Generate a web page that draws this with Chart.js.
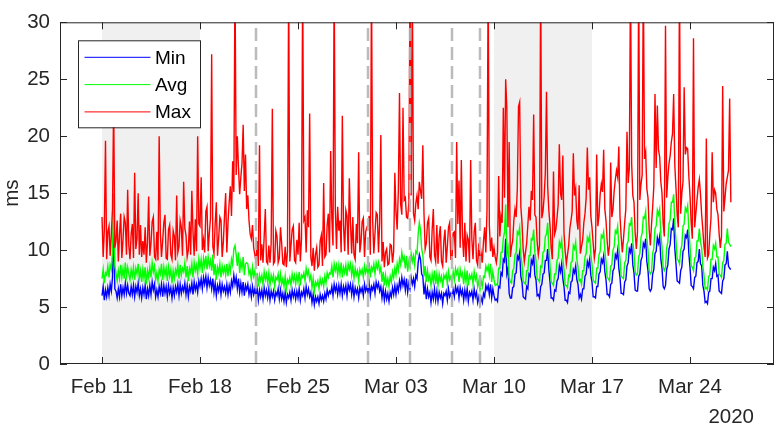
<!DOCTYPE html>
<html>
<head>
<meta charset="utf-8">
<title>Latencia</title>
<script src="https://cdn.jsdelivr.net/npm/chart.js@4.4.1/dist/chart.umd.min.js"></script>
<style>
  html, body { margin: 0; padding: 0; background: #fff; }
  #wrap { width: 774px; height: 426px; }
</style>
</head>
<body>
<div id="wrap"><canvas id="grafico" width="774" height="426"></canvas></div>
<script>
// Eje X en días desde el 8 de febrero de 2020
const startDay = 3;         // primera muestra: 11 feb 00:00
const samplesPerDay = 12;   // una muestra cada 2 horas

const tickDays = [3, 10, 17, 24, 31, 38, 45];
const tickLabels = ["Feb 11", "Feb 18", "Feb 25", "Mar 03", "Mar 10", "Mar 17", "Mar 24"];
const shadedWeeks = [[3, 10], [31, 38]];
const markerDays = [14, 22, 25, 28, 30];
const yearLabel = "2020";

const seriesNames = ["Min", "Avg", "Max"];
const seriesColors = ["#0000ff", "#00ff00", "#ff0000"];

// Valores en ms, 12 por día (cada fila = un día, desde el 11 feb)
const minMs = [
  6.0, 6.8, 5.6, 6.5, 5.9, 6.7, 6.0, 7.0, 6.4, 7.6, 12.4, 6.6,
  6.4, 5.8, 6.6, 5.9, 7.0, 6.0, 6.7, 6.1, 7.1, 6.2, 6.9, 6.2,
  6.0, 6.8, 6.1, 6.9, 5.9, 6.8, 6.3, 7.1, 6.0, 6.6, 5.8, 6.7,
  6.1, 6.9, 5.7, 6.6, 6.0, 6.9, 6.1, 7.2, 6.5, 7.0, 5.9, 6.5,
  5.9, 6.8, 6.2, 7.0, 5.9, 6.9, 6.2, 6.8, 5.9, 6.9, 6.2, 6.7,
  5.8, 6.7, 6.0, 6.8, 6.3, 7.0, 6.0, 7.0, 6.2, 6.8, 6.4, 7.1,
  6.1, 6.9, 5.9, 6.8, 6.4, 7.1, 6.1, 7.2, 6.5, 7.0, 6.3, 7.3,
  6.8, 7.5, 6.6, 7.6, 7.0, 7.7, 6.7, 7.6, 6.9, 7.4, 6.6, 7.5,
  6.3, 7.1, 6.0, 6.9, 6.4, 7.1, 6.1, 7.0, 6.4, 6.8, 6.2, 7.0,
  6.1, 6.9, 6.3, 7.3, 6.8, 7.8, 7.0, 7.6, 6.6, 7.5, 6.3, 7.1,
  6.3, 7.2, 6.0, 6.9, 6.5, 7.0, 6.1, 6.7, 5.9, 6.8, 6.1, 6.6,
  5.8, 6.6, 5.6, 6.5, 5.9, 6.5, 5.7, 6.7, 6.0, 6.5, 5.8, 6.6,
  5.6, 6.4, 5.9, 6.4, 5.6, 6.3, 6.0, 6.6, 5.7, 6.5, 5.7, 6.2,
  5.5, 6.3, 5.4, 6.1, 5.8, 6.3, 5.6, 6.5, 5.9, 6.4, 5.7, 6.4,
  5.8, 6.6, 5.6, 6.3, 6.0, 6.6, 5.8, 6.8, 6.1, 6.6, 5.9, 6.3,
  5.4, 6.1, 5.2, 5.9, 5.5, 5.9, 5.3, 6.1, 5.6, 6.0, 5.5, 6.2,
  5.7, 6.5, 6.0, 6.4, 6.2, 6.8, 6.0, 7.0, 6.4, 6.9, 6.1, 6.9,
  6.2, 7.0, 6.0, 6.8, 6.3, 6.9, 6.0, 7.0, 6.5, 7.0, 6.1, 6.9,
  5.9, 6.7, 6.2, 6.6, 5.8, 6.7, 6.3, 6.7, 6.0, 7.0, 6.4, 6.8,
  6.3, 7.1, 6.0, 6.8, 6.5, 7.0, 6.2, 7.2, 6.7, 7.1, 6.4, 6.8,
  5.8, 6.6, 5.6, 6.4, 5.7, 6.2, 5.5, 6.3, 5.9, 6.7, 6.1, 6.9,
  6.1, 6.9, 6.4, 7.3, 6.7, 7.6, 6.9, 7.4, 6.5, 7.5, 6.3, 7.1,
  6.6, 7.6, 7.0, 7.5, 6.8, 7.8, 7.5, 8.9, 9.6, 9.2, 7.9, 7.7,
  6.1, 6.9, 5.7, 6.6, 5.9, 6.3, 5.4, 6.3, 5.7, 6.6, 5.6, 6.4,
  5.5, 6.3, 5.8, 6.2, 5.3, 6.2, 6.0, 6.4, 5.6, 6.6, 5.9, 6.2,
  5.7, 6.5, 5.9, 6.8, 6.3, 6.7, 5.8, 6.7, 6.1, 6.5, 5.6, 6.5,
  5.8, 6.6, 5.5, 6.3, 6.0, 6.4, 5.6, 6.6, 5.9, 6.3, 5.4, 5.9,
  5.2, 5.8, 5.4, 6.2, 5.9, 6.9, 6.5, 6.9, 6.1, 7.0, 5.8, 6.6,
  6.0, 5.6, 5.7, 5.5, 6.8, 6.7, 8.0, 7.8, 9.2, 9.0, 11.0, 7.9,
  8.4, 6.2, 5.8, 5.8, 6.7, 6.8, 7.9, 8.0, 9.5, 9.2, 9.8, 7.7,
  7.2, 5.9, 5.8, 5.7, 6.8, 6.6, 7.9, 7.7, 9.1, 8.8, 9.6, 7.8,
  7.4, 6.0, 6.1, 5.8, 6.8, 7.0, 7.9, 8.0, 9.1, 9.1, 10.1, 8.3,
  7.2, 5.8, 5.8, 5.6, 6.5, 6.4, 7.3, 7.5, 8.6, 8.1, 8.8, 7.5,
  6.8, 5.6, 5.6, 5.4, 6.3, 6.2, 7.2, 7.3, 8.3, 8.0, 8.6, 7.4,
  7.0, 5.8, 6.1, 5.7, 6.6, 6.6, 7.7, 7.9, 9.0, 8.6, 9.2, 7.8,
  7.2, 5.9, 5.9, 5.8, 6.8, 6.8, 7.9, 8.1, 9.2, 8.9, 9.5, 8.1,
  7.4, 6.1, 6.1, 5.9, 7.0, 7.1, 8.2, 8.4, 9.6, 9.3, 10.0, 8.4,
  7.6, 6.2, 6.2, 6.1, 7.2, 7.4, 8.6, 8.9, 10.1, 9.8, 10.6, 8.7,
  8.0, 6.5, 6.4, 6.4, 7.7, 7.9, 9.1, 9.4, 10.6, 10.3, 11.0, 9.0,
  8.2, 6.6, 6.4, 6.6, 7.9, 8.3, 9.7, 9.9, 11.1, 10.6, 11.2, 9.2,
  8.4, 6.8, 6.6, 6.9, 8.3, 8.7, 10.1, 10.5, 11.9, 11.8, 12.8, 10.1,
  8.8, 7.3, 7.2, 7.1, 8.2, 8.5, 9.9, 10.1, 11.3, 11.1, 11.8, 9.7,
  8.5, 6.9, 6.8, 6.6, 7.6, 7.7, 8.9, 9.0, 10.1, 8.8, 8.6, 6.9,
  6.4, 5.4, 5.5, 5.3, 6.3, 6.4, 7.5, 7.5, 8.5, 8.2, 8.8, 7.7,
  7.8, 6.4, 6.3, 6.2, 7.3, 7.5, 8.7, 8.8, 9.9, 8.6, 8.4, 8.3
];

const avgMs = [
  7.5, 8.3, 7.1, 8.0, 7.8, 8.6, 7.6, 8.7, 8.3, 9.8, 15.0, 8.6,
  8.0, 7.3, 8.2, 7.5, 8.7, 7.6, 8.4, 7.5, 8.9, 7.7, 8.5, 7.9,
  7.4, 8.3, 7.7, 8.5, 7.4, 8.4, 7.9, 8.8, 7.5, 8.2, 7.2, 8.3,
  7.5, 8.5, 7.0, 8.2, 7.6, 8.5, 7.6, 8.9, 8.1, 8.6, 7.4, 8.0,
  7.3, 8.3, 7.9, 8.8, 7.4, 8.5, 7.8, 8.4, 7.3, 8.5, 7.7, 8.3,
  7.1, 8.2, 7.5, 8.3, 7.9, 8.7, 7.5, 8.7, 7.8, 8.4, 8.1, 8.9,
  7.6, 8.6, 7.3, 8.4, 8.0, 8.8, 7.6, 8.9, 8.2, 8.7, 7.9, 9.2,
  8.4, 9.2, 8.0, 9.3, 8.6, 9.5, 8.3, 9.4, 8.6, 9.1, 8.2, 9.6,
  7.8, 8.8, 7.4, 8.5, 8.0, 8.8, 7.6, 8.6, 8.0, 8.5, 7.8, 8.8,
  7.7, 8.7, 8.1, 9.2, 8.7, 10.1, 10.4, 9.6, 8.6, 9.8, 8.0, 9.0,
  8.4, 9.4, 7.8, 8.8, 8.9, 8.8, 7.9, 8.2, 7.4, 8.5, 7.7, 8.2,
  7.1, 8.0, 6.8, 7.8, 7.3, 7.8, 7.0, 8.1, 7.4, 7.9, 7.1, 8.0,
  6.9, 7.8, 7.3, 7.8, 6.8, 7.6, 7.4, 7.9, 7.0, 7.9, 7.0, 7.5,
  6.8, 7.7, 6.6, 7.4, 7.1, 7.6, 6.9, 7.9, 7.3, 7.8, 7.0, 7.8,
  7.2, 8.1, 6.9, 7.8, 7.6, 8.0, 7.3, 8.4, 7.8, 8.2, 7.4, 7.8,
  6.7, 7.5, 6.4, 7.2, 6.9, 7.3, 6.6, 7.5, 7.0, 7.4, 6.8, 7.7,
  7.1, 8.0, 7.6, 8.0, 7.9, 8.6, 7.6, 8.8, 8.2, 8.7, 7.8, 8.7,
  7.9, 8.9, 7.6, 8.5, 8.0, 8.7, 7.7, 8.8, 8.3, 8.8, 7.8, 8.6,
  7.5, 8.4, 7.8, 8.2, 7.3, 8.3, 7.9, 8.3, 7.6, 8.6, 8.0, 8.5,
  7.9, 8.9, 7.6, 8.5, 8.2, 8.8, 7.9, 8.9, 8.4, 8.9, 8.1, 8.5,
  7.2, 8.1, 6.9, 7.8, 7.0, 7.5, 6.8, 7.7, 7.2, 8.1, 7.6, 8.4,
  7.8, 8.8, 8.2, 9.2, 8.7, 9.8, 9.1, 9.4, 8.4, 9.5, 8.1, 9.0,
  8.5, 9.7, 9.0, 9.5, 8.7, 9.9, 9.7, 11.4, 12.4, 11.8, 10.1, 9.6,
  7.7, 8.6, 7.2, 8.2, 7.4, 7.8, 6.9, 7.9, 7.2, 8.2, 7.0, 7.9,
  6.9, 7.9, 7.3, 7.7, 6.7, 7.8, 7.5, 7.9, 7.0, 8.1, 7.4, 7.7,
  7.1, 8.1, 7.4, 8.4, 7.9, 8.3, 7.2, 8.3, 7.7, 8.0, 7.0, 8.1,
  7.2, 8.2, 6.9, 7.8, 7.5, 7.9, 7.0, 8.1, 7.4, 7.8, 6.8, 7.3,
  6.5, 7.3, 6.8, 7.7, 7.6, 8.6, 8.2, 8.6, 7.8, 8.8, 7.2, 8.1,
  7.4, 6.9, 7.0, 6.9, 8.4, 8.4, 9.8, 9.8, 11.0, 11.6, 14.0, 9.7,
  10.2, 7.6, 7.2, 7.1, 8.2, 8.4, 9.6, 9.8, 11.6, 11.4, 12.0, 9.5,
  8.8, 7.3, 7.1, 7.0, 8.2, 8.2, 9.5, 9.5, 11.0, 10.9, 11.8, 9.8,
  9.1, 7.5, 7.4, 7.2, 8.6, 8.5, 9.8, 9.9, 11.2, 11.4, 12.4, 10.2,
  8.7, 7.2, 7.1, 6.9, 7.9, 7.9, 9.1, 9.3, 10.7, 10.3, 10.9, 9.3,
  8.3, 6.9, 6.9, 6.7, 7.8, 7.7, 8.9, 9.0, 10.4, 10.1, 10.7, 9.2,
  8.5, 7.3, 7.4, 7.0, 8.2, 8.2, 9.4, 9.7, 11.1, 10.8, 11.3, 9.6,
  8.8, 7.4, 7.2, 7.1, 8.4, 8.4, 9.6, 9.9, 11.3, 11.1, 11.6, 10.0,
  9.0, 7.6, 7.5, 7.3, 8.6, 8.7, 10.0, 10.3, 11.7, 11.5, 12.1, 10.3,
  9.3, 7.7, 7.6, 7.5, 8.9, 9.1, 10.5, 10.8, 12.3, 12.2, 12.9, 10.7,
  9.8, 8.1, 7.8, 7.9, 9.4, 9.7, 11.1, 11.5, 12.9, 12.8, 13.4, 11.1,
  10.0, 8.2, 7.9, 8.1, 9.7, 10.2, 11.9, 12.1, 13.5, 13.1, 13.6, 11.4,
  10.3, 8.5, 8.2, 8.5, 10.2, 10.7, 12.3, 12.7, 14.2, 14.2, 14.9, 12.3,
  10.8, 9.2, 9.1, 8.8, 10.0, 10.4, 12.1, 12.3, 13.7, 13.4, 13.9, 11.8,
  10.4, 8.6, 8.5, 8.2, 9.3, 9.4, 10.8, 10.8, 11.9, 10.7, 10.2, 8.6,
  7.8, 6.6, 6.7, 6.5, 7.7, 7.8, 9.2, 9.2, 10.4, 10.1, 10.6, 9.4,
  9.4, 7.9, 7.8, 7.6, 8.9, 9.1, 10.5, 10.6, 11.9, 10.7, 10.5, 10.3
];

const maxMs = [
  12.9, 9.4, 11.8, 19.6, 9.2, 11.6, 12.1, 9.5, 11.4, 13.6, 23.0, 10.2,
  10.8, 12.6, 9.0, 11.3, 13.2, 9.3, 10.9, 12.9, 12.4, 9.6, 15.3, 10.4,
  9.2, 11.4, 12.3, 9.3, 16.8, 10.1, 11.0, 15.0, 9.6, 12.2, 9.4, 10.8,
  9.6, 12.0, 8.9, 10.7, 14.7, 9.5, 10.6, 12.5, 12.9, 9.4, 9.2, 11.6,
  9.1, 20.0, 11.5, 9.4, 10.8, 12.4, 13.1, 9.3, 9.2, 11.8, 12.2, 9.6,
  9.2, 11.7, 11.2, 9.1, 14.8, 9.8, 10.3, 12.6, 12.0, 9.5, 16.0, 11.9,
  11.3, 9.4, 10.0, 12.5, 9.6, 15.2, 11.6, 9.5, 12.7, 9.9, 20.0, 12.3,
  12.1, 16.4, 10.0, 10.9, 9.8, 13.4, 13.8, 9.9, 11.5, 12.8, 27.2, 10.3,
  9.7, 12.3, 14.2, 9.5, 11.0, 12.9, 12.6, 9.4, 10.7, 13.0, 15.0, 9.8,
  12.4, 14.2, 15.6, 13.0, 17.8, 15.1, 34.0, 16.6, 20.0, 17.2, 14.9, 16.4,
  17.6, 21.0, 15.2, 18.4, 13.6, 14.8, 12.6, 11.4, 11.0, 12.2, 10.2, 9.6,
  9.0, 10.8, 8.6, 19.2, 9.1, 10.5, 8.9, 11.2, 13.6, 9.0, 8.8, 10.4,
  8.9, 10.6, 22.4, 8.8, 9.0, 11.7, 11.2, 8.9, 9.3, 12.0, 10.6, 8.8,
  8.7, 10.3, 8.5, 9.9, 34.0, 9.0, 10.4, 11.8, 12.1, 9.1, 8.9, 10.9,
  9.6, 12.4, 9.0, 11.0, 34.0, 12.6, 12.9, 9.8, 13.5, 12.0, 22.0, 9.4,
  8.6, 10.2, 8.2, 9.6, 10.2, 8.5, 8.7, 10.8, 11.3, 8.6, 15.9, 9.4,
  9.6, 12.2, 13.2, 9.8, 18.7, 12.8, 10.4, 34.0, 13.6, 10.1, 13.8, 11.7,
  12.6, 9.8, 21.8, 12.2, 9.9, 13.5, 13.0, 9.6, 16.3, 12.4, 9.7, 12.9,
  9.6, 9.2, 12.3, 10.6, 18.6, 9.8, 10.7, 12.5, 12.8, 9.4, 11.6, 12.0,
  12.2, 13.0, 9.6, 34.0, 12.6, 9.7, 11.5, 13.3, 13.1, 9.8, 12.4, 20.1,
  9.0, 10.7, 8.5, 9.8, 10.1, 8.7, 8.8, 10.5, 10.4, 8.9, 9.9, 16.8,
  13.4, 11.8, 15.2, 23.8, 14.0, 13.1, 22.5, 14.4, 14.6, 12.9, 12.8, 14.1,
  34.0, 14.8, 34.0, 13.2, 12.6, 14.1, 14.8, 13.6, 16.0, 15.2, 14.5, 19.2,
  13.2, 10.1, 10.6, 12.4, 12.8, 9.4, 9.1, 11.8, 13.6, 9.6, 9.0, 12.2,
  8.8, 11.2, 12.1, 9.0, 8.6, 10.8, 11.8, 8.9, 10.3, 12.0, 12.4, 9.2,
  9.2, 11.5, 11.6, 9.3, 19.5, 12.3, 16.1, 10.2, 17.9, 11.2, 9.4, 12.4,
  9.0, 11.3, 10.9, 8.9, 17.9, 11.0, 9.2, 11.6, 12.4, 9.1, 8.7, 10.6,
  8.4, 9.7, 8.9, 10.8, 12.0, 9.8, 13.5, 34.0, 12.2, 9.9, 11.1, 9.4,
  10.2, 9.4, 8.9, 9.8, 16.5, 11.2, 13.0, 12.4, 22.5, 14.6, 25.0, 22.5,
  12.0, 19.5, 9.4, 10.3, 10.8, 12.6, 13.6, 12.9, 15.4, 22.6, 23.0, 13.8,
  12.4, 10.1, 9.0, 9.8, 10.6, 12.2, 13.8, 12.6, 15.2, 14.4, 21.9, 13.1,
  12.9, 10.7, 9.6, 10.4, 34.0, 12.8, 13.4, 14.7, 16.8, 23.9, 15.6, 13.5,
  12.2, 10.2, 9.2, 16.9, 11.4, 11.8, 12.8, 14.0, 19.3, 15.0, 14.4, 18.3,
  11.5, 9.9, 8.8, 9.6, 10.4, 11.9, 12.6, 13.4, 18.5, 14.8, 15.4, 12.6,
  11.8, 15.7, 9.7, 10.3, 10.9, 12.4, 13.2, 14.6, 19.0, 15.3, 16.4, 13.0,
  12.0, 10.6, 9.3, 10.1, 18.4, 12.1, 13.0, 14.9, 15.8, 15.1, 18.8, 13.6,
  12.6, 10.8, 9.5, 10.4, 17.7, 12.9, 13.6, 15.2, 16.2, 17.0, 16.4, 19.1,
  13.0, 11.2, 9.8, 11.0, 12.4, 13.6, 20.4, 15.9, 17.2, 34.0, 17.6, 14.8,
  14.2, 11.5, 10.1, 11.6, 34.0, 14.4, 15.8, 16.6, 34.0, 18.0, 18.6, 15.4,
  14.6, 11.8, 10.4, 12.2, 13.8, 15.6, 23.7, 17.2, 22.7, 18.8, 18.2, 16.0,
  15.0, 12.3, 11.2, 29.7, 14.6, 16.4, 17.6, 18.3, 19.5, 20.2, 23.7, 17.4,
  15.4, 13.1, 12.0, 34.0, 13.2, 15.0, 16.0, 24.3, 18.4, 19.0, 18.9, 16.5,
  14.8, 12.4, 11.0, 28.6, 12.0, 13.2, 14.4, 15.5, 16.2, 14.9, 13.1, 11.8,
  10.3, 9.4, 19.8, 9.3, 9.6, 11.4, 12.8, 18.6, 14.2, 15.3, 15.0, 13.6,
  13.1, 11.4, 10.2, 11.2, 24.4, 13.4, 14.6, 15.8, 16.4, 17.0, 23.3, 14.2
];

const FONT = "'Liberation Sans', Arial, Helvetica, sans-serif";
const INK = "#262626";

// Convertir cada serie a puntos {x, y}
const toPoints = (arr) => arr.map((v, i) => ({ x: startDay + i / samplesPerDay, y: v }));

// Plugin: sombreado, líneas discontinuas, marco con marcas internas, leyenda y año
const decoracion = {
  id: "decoracion",
  beforeDatasetsDraw(chart) {
    const { ctx, chartArea: a, scales } = chart;
    ctx.save();
    ctx.fillStyle = "#f0f0f0";
    shadedWeeks.forEach(([s, e]) => {
      const x0 = scales.x.getPixelForValue(s);
      const x1 = scales.x.getPixelForValue(e);
      ctx.fillRect(x0, a.top, x1 - x0, a.bottom - a.top);
    });
    ctx.restore();
  },
  afterDatasetsDraw(chart) {
    const { ctx, chartArea: a, scales } = chart;
    ctx.save();

    // Líneas verticales discontinuas
    ctx.strokeStyle = "rgba(180,180,180,0.9)";
    ctx.lineWidth = 2.5;
    ctx.setLineDash([13, 6]);
    markerDays.forEach((d) => {
      const px = scales.x.getPixelForValue(d);
      ctx.beginPath();
      ctx.moveTo(px, a.bottom);
      ctx.lineTo(px, a.top);
      ctx.stroke();
    });
    ctx.setLineDash([]);

    // Marco del gráfico
    ctx.strokeStyle = INK;
    ctx.lineWidth = 1;
    ctx.strokeRect(a.left + 0.5, a.top + 0.5, a.right - a.left - 1, a.bottom - a.top - 1);

    // Marcas hacia dentro (abajo/arriba y izquierda/derecha)
    const tl = 7;
    ctx.beginPath();
    tickDays.forEach((d) => {
      const px = Math.round(scales.x.getPixelForValue(d)) + 0.5;
      ctx.moveTo(px, a.bottom);
      ctx.lineTo(px, a.bottom - tl);
      ctx.moveTo(px, a.top);
      ctx.lineTo(px, a.top + tl);
    });
    scales.y.ticks.forEach((t) => {
      const py = Math.round(scales.y.getPixelForValue(t.value)) + 0.5;
      ctx.moveTo(a.left, py);
      ctx.lineTo(a.left + tl, py);
      ctx.moveTo(a.right, py);
      ctx.lineTo(a.right - tl, py);
    });
    ctx.stroke();

    // Leyenda
    const lx = a.left + 18, ly = a.top + 18, lw = 122, lh = 87;
    ctx.fillStyle = "#fff";
    ctx.fillRect(lx, ly, lw, lh);
    ctx.strokeStyle = INK;
    ctx.strokeRect(lx + 0.5, ly + 0.5, lw, lh);
    ctx.font = "19px " + FONT;
    ctx.textBaseline = "middle";
    ctx.textAlign = "left";
    seriesNames.forEach((name, i) => {
      const yy = ly + 17 + i * 27.3;
      ctx.strokeStyle = seriesColors[i];
      ctx.lineWidth = 1;
      ctx.beginPath();
      ctx.moveTo(lx + 6.5, yy);
      ctx.lineTo(lx + 72.5, yy);
      ctx.stroke();
      ctx.fillStyle = "#000";
      ctx.fillText(name, lx + 77, yy + 1);
    });

    // Año bajo el eje
    ctx.font = "20.5px " + FONT;
    ctx.fillStyle = INK;
    ctx.textAlign = "right";
    ctx.textBaseline = "alphabetic";
    ctx.fillText(yearLabel, 754, 423);

    ctx.restore();
  }
};

const ctx = document.getElementById("grafico").getContext("2d");
new Chart(ctx, {
  type: "line",
  data: {
    datasets: [
      { label: "Min", data: toPoints(minMs), borderColor: seriesColors[0], order: 3 },
      { label: "Avg", data: toPoints(avgMs), borderColor: seriesColors[1], order: 2 },
      { label: "Max", data: toPoints(maxMs), borderColor: seriesColors[2], order: 1 }
    ]
  },
  options: {
    responsive: false,
    animation: false,
    devicePixelRatio: 1,
    layout: { padding: { top: 6, right: 0, left: 0, bottom: 0 } },
    elements: {
      line: { borderWidth: 1.4, tension: 0, fill: false },
      point: { radius: 0 }
    },
    plugins: {
      legend: { display: false },
      tooltip: { enabled: false }
    },
    scales: {
      x: {
        type: "linear",
        min: 0,
        max: 51,
        grid: { display: false, drawTicks: false },
        border: { display: false },
        afterBuildTicks: (scale) => {
          scale.ticks = tickDays.map((v) => ({ value: v }));
        },
        afterFit: (scale) => { scale.height = 62; },
        ticks: {
          autoSkip: false,
          maxRotation: 0,
          padding: 11,
          color: INK,
          font: { family: FONT, size: 20.5 },
          callback: (value) => tickLabels[tickDays.indexOf(value)]
        }
      },
      y: {
        min: 0,
        max: 30,
        grid: { display: false, drawTicks: false },
        border: { display: false },
        afterFit: (scale) => { scale.width = 60; },
        ticks: {
          stepSize: 5,
          padding: 10,
          color: INK,
          font: { family: FONT, size: 20.5 }
        },
        title: {
          display: true,
          text: "ms",
          color: INK,
          padding: { top: 0, bottom: 0 },
          font: { family: FONT, size: 20.5 }
        }
      }
    }
  },
  plugins: [decoracion]
});
</script>
</body>
</html>
